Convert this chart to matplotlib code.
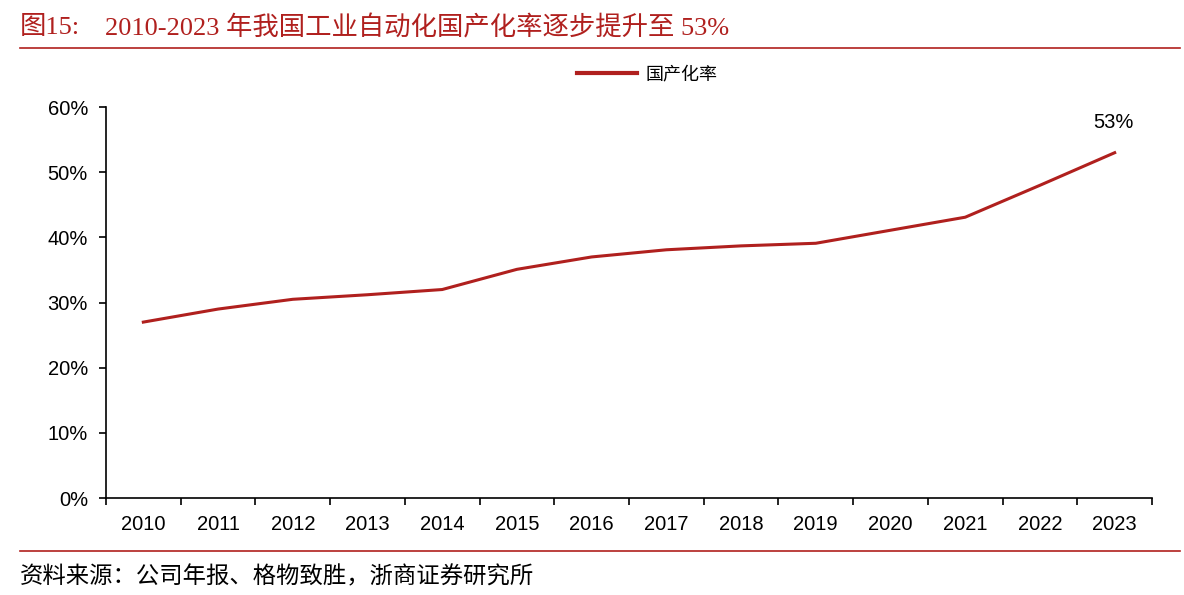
import matplotlib.pyplot as plt
import matplotlib.ticker as mticker
from matplotlib.lines import Line2D

plt.rcParams['font.family'] = ['Liberation Sans', 'Noto Sans CJK SC']

years = ['2010', '2011', '2012', '2013', '2014', '2015', '2016',
         '2017', '2018', '2019', '2020', '2021', '2022', '2023']
rate = [27.0, 29.0, 30.5, 31.2, 32.0, 35.1, 37.0,
        38.1, 38.7, 39.1, 41.1, 43.1, 48.0, 53.0]

red = '#B0201E'
cn = ['Noto Sans CJK SC', 'DejaVu Sans']
serif = ['Liberation Serif', 'Noto Sans CJK SC']

fig = plt.figure(figsize=(11.84, 5.95), dpi=100)
ax = fig.add_axes([0.0895, 0.163, 0.8835, 0.657])

x = list(range(len(years)))
ax.plot(x, rate, color=red, lw=2.2, label='国产化率')
ax.annotate('53%', (x[-1], rate[-1]), xytext=(-1, 22), textcoords='offset points',
            ha='center', va='center', fontsize=14.5)

ax.set_xlim(-0.5, len(years) - 0.5)
ax.set_ylim(0, 60)
ax.yaxis.set_major_locator(mticker.MultipleLocator(10))
ax.yaxis.set_major_formatter(mticker.FuncFormatter(lambda v, p: f'{v:.0f}%'))
ax.set_xticks(x)
ax.set_xticklabels(years)
ax.set_xticks([i - 0.5 for i in range(len(years) + 1)], minor=True)
ax.tick_params(axis='x', which='major', length=0, pad=12, labelsize=14.5)
ax.tick_params(axis='x', which='minor', length=5, width=1.2, direction='out')
ax.tick_params(axis='y', length=5, width=1.2, labelsize=14.5, pad=8)
for s in ['top', 'right']:
    ax.spines[s].set_visible(False)
for s in ['left', 'bottom']:
    ax.spines[s].set_linewidth(1.2)

leg = fig.legend(handles=[Line2D([], [], color=red, lw=3)], labels=['国产化率'],
                 loc='center', bbox_to_anchor=(0.547, 0.875), frameon=False,
                 prop={'family': cn, 'size': 13}, handlelength=3.3, handletextpad=0.5)

fig.text(0.017, 0.953, '图15:', color=red, fontsize=19, family=serif, va='center')
fig.text(0.0885, 0.953, '2010-2023 年我国工业自动化国产化率逐步提升至 53%',
         color=red, fontsize=19, family=serif, va='center')
fig.add_artist(Line2D([0.017, 0.997], [0.919, 0.919], color=red, lw=1.2))
fig.add_artist(Line2D([0.017, 0.997], [0.074, 0.074], color=red, lw=1.2))
fig.text(0.017, 0.03, '资料来源：公司年报、格物致胜，浙商证券研究所',
         fontsize=16.8, family=cn, va='center')

fig.savefig('out.png', dpi=100)
